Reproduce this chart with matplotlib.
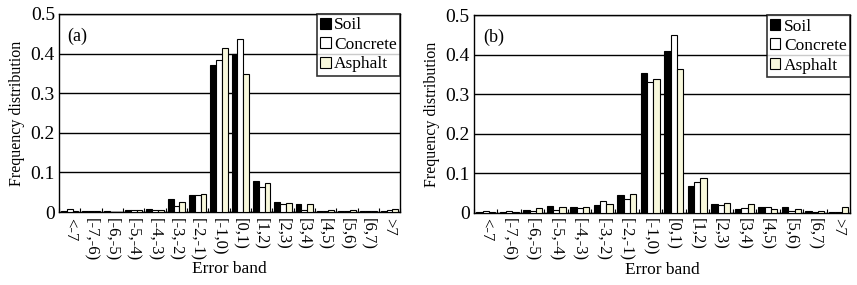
import numpy as np
import matplotlib
matplotlib.use("Agg")
import matplotlib.pyplot as plt

plt.rcParams['font.family'] = ['Liberation Serif', 'DejaVu Serif']

bands = ["<-7", "[-7,-6)", "[-6,-5)", "[-5,-4)", "[-4,-3)", "[-3,-2)", "[-2,-1)",
         "[-1,0)", "[0,1)", "[1,2)", "[2,3)", "[3,4)", "[4,5)", "[5,6)", "[6,7)", ">7"]

# panel (a)
soil_a = [0.002, 0.002, 0.003, 0.004, 0.008, 0.032, 0.044, 0.372, 0.400, 0.078,
          0.025, 0.020, 0.003, 0.002, 0.002, 0.003]
concrete_a = [0.007, 0.002, 0.001, 0.006, 0.005, 0.016, 0.044, 0.384, 0.438, 0.062,
              0.020, 0.006, 0.002, 0.003, 0.002, 0.006]
asphalt_a = [0.002, 0.003, 0.001, 0.006, 0.004, 0.025, 0.046, 0.415, 0.348, 0.073,
             0.023, 0.020, 0.006, 0.006, 0.002, 0.008]

# panel (b)
soil_b = [0.002, 0.002, 0.007, 0.018, 0.016, 0.019, 0.044, 0.354, 0.408, 0.069,
          0.023, 0.010, 0.015, 0.014, 0.005, 0.001]
concrete_b = [0.005, 0.006, 0.006, 0.007, 0.013, 0.031, 0.034, 0.332, 0.450, 0.078,
              0.019, 0.013, 0.014, 0.006, 0.002, 0.001]
asphalt_b = [0.001, 0.001, 0.012, 0.015, 0.014, 0.022, 0.049, 0.339, 0.363, 0.087,
             0.025, 0.023, 0.010, 0.010, 0.005, 0.015]

ASPHALT_COLOR = "#f8f8dc"


def draw_panel(ax, soil, concrete, asphalt, tag):
    x = np.arange(len(bands))
    w = 0.27
    ax.bar(x - w, soil, w, color="black", edgecolor="black", linewidth=0.8,
           label="Soil", zorder=3)
    ax.bar(x, concrete, w, color="white", edgecolor="black", linewidth=0.8,
           label="Concrete", zorder=3)
    ax.bar(x + w, asphalt, w, color=ASPHALT_COLOR, edgecolor="black", linewidth=0.8,
           label="Asphalt", zorder=3)

    ax.set_xlim(-0.5, len(bands) - 0.5)
    ax.set_ylim(0, 0.5)
    ax.set_yticks([0, 0.1, 0.2, 0.3, 0.4, 0.5])
    ax.set_yticklabels(["0", "0.1", "0.2", "0.3", "0.4", "0.5"], fontsize=14)
    ax.yaxis.grid(True, color="black", linewidth=1.0, zorder=0)
    ax.set_xticks(x)
    ax.set_xticklabels(bands, rotation=270, fontsize=12)
    ax.tick_params(axis="x", length=0, pad=4)
    ax.set_xticks(np.arange(len(bands) + 1) - 0.5, minor=True)
    ax.tick_params(axis="x", which="minor", direction="in", length=3, width=0.8)
    ax.tick_params(axis="y", direction="in", length=0, pad=3)
    for s in ax.spines.values():
        s.set_linewidth(1.0)
    ax.set_xlabel("Error band", fontsize=12.5, labelpad=0)
    ax.set_ylabel("Frequency distribution", fontsize=11.5, labelpad=4)
    ax.text(0.025, 0.93, tag, transform=ax.transAxes, fontsize=13, va="top", ha="left")
    leg = ax.legend(loc="upper right", fontsize=12.5, frameon=True, fancybox=False,
                    borderpad=0.2, handlelength=0.6, handleheight=0.6,
                    handletextpad=0.2, labelspacing=0.2, borderaxespad=0.0)
    leg.get_frame().set_edgecolor("black")
    leg.get_frame().set_linewidth(1.2)


fig = plt.figure(figsize=(8.57, 2.85), dpi=100)
ax1 = fig.add_axes([0.069, 0.256, 0.398, 0.695])
ax2 = fig.add_axes([0.553, 0.253, 0.439, 0.694])
draw_panel(ax1, soil_a, concrete_a, asphalt_a, "(a)")
draw_panel(ax2, soil_b, concrete_b, asphalt_b, "(b)")

fig.savefig("out.png", dpi=100)
